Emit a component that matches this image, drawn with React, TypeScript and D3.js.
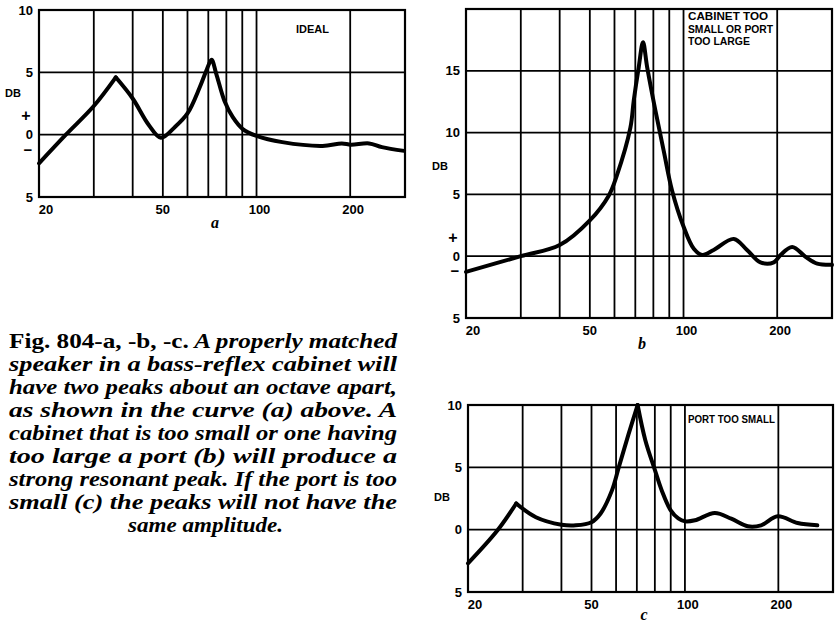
import React from 'react';
import * as d3 from 'd3';

// ---------- shared axis data ----------
const gridFreqs = [30, 40, 50, 60, 70, 80, 90, 100, 200];
const xTickValues = [20, 50, 100, 200];
const xTickLabels = ['20', '50', '100', '200'];

// ---------- panel a : IDEAL ----------
const aFreq = [20, 24.4, 30, 35.3, 40, 45, 49.3, 54.6, 60, 65.7, 68.9, 71.7, 74.2, 78.9, 83.9, 90.3, 100, 121, 163, 188, 201, 230, 253, 298];
const aDb = [-2.3, 0, 2.3, 4.6, 2.9, 0.8, -0.25, 0.6, 1.7, 3.8, 5.1, 6.0, 4.9, 2.7, 1.4, 0.45, -0.1, -0.6, -0.9, -0.7, -0.8, -0.7, -1.0, -1.3];
const aSharp = [3];
const aGridDb = [5, 0];
const aTickDb = [10, 5, 0, -5];
const aTickLabels = ['10', '5', '0', '5'];
const aNote = ['IDEAL'];

// ---------- panel b : CABINET TOO SMALL ----------
const bFreq = [20, 30, 40, 50, 57.5, 61, 67.5, 69.2, 71.8, 74.1, 76.4, 81.2, 86.4, 91.9, 100, 107.9, 114.8, 125, 145, 160, 176.7, 195, 205, 223.5, 246.7, 269, 300];
const bDb = [-1.27, 0, 0.9, 2.9, 4.9, 6.5, 10.4, 12.6, 15.3, 17.3, 15.3, 11.8, 8.5, 5.3, 2.4, 0.6, 0.1, 0.5, 1.4, 0.5, -0.5, -0.5, 0.1, 0.75, -0.05, -0.6, -0.7];
const bSharp: number[] = [];
const bGridDb = [15, 10, 5, 0];
const bTickDb = [15, 10, 5, 0, -5];
const bTickLabels = ['15', '10', '5', '0', '5'];
const bNote = ['CABINET TOO', 'SMALL OR PORT', 'TOO LARGE'];

// ---------- panel c : PORT TOO SMALL ----------
const cFreq = [20, 24.9, 28.6, 33.1, 40, 44.5, 50, 53.5, 58.2, 61.2, 65.9, 70.4, 74.5, 80, 84.2, 90, 95.2, 100, 107.7, 124.8, 141, 159.5, 175.9, 199, 230.7, 267];
const cDb = [-2.7, -0.05, 2.1, 1.0, 0.4, 0.35, 0.6, 1.3, 3.15, 5.0, 7.7, 10.0, 7.2, 4.8, 3.15, 1.55, 0.9, 0.67, 0.75, 1.33, 0.88, 0.27, 0.35, 1.07, 0.53, 0.35];
const cSharp = [2, 11];
const cGridDb = [5, 0];
const cTickDb = [10, 5, 0, -5];
const cTickLabels = ['10', '5', '0', '5'];
const cNote = ['PORT TOO SMALL'];

// ---------- caption ----------
const captionHead = 'Fig. 804-a, -b, -c.';
const captionFirstRest = ' A properly matched';
const captionLines = [
  'speaker in a bass-reflex cabinet will',
  'have two peaks about an octave apart,',
  'as shown in the curve (a) above. A',
  'cabinet that is too small or one having',
  'too large a port (b) will produce a',
  'strong resonant peak. If the port is too',
  'small (c) the peaks will not have the',
];
const captionLast = 'same amplitude.';

const SANS = "'Liberation Sans Narrow','Liberation Sans',Arial,sans-serif";
const SERIF = "'Liberation Serif','DejaVu Serif',serif";

type PanelProps = {
  left: number; top: number; width: number; height: number;
  yMin: number; yMax: number;
  freqs: number[]; dbs: number[]; sharp: number[];
  gridDb: number[]; tickDb: number[]; tickLabels: string[];
  signs: boolean; dbLabelAt: number;
  note: string[]; noteWidths: number[]; noteX: number; noteY: number; noteStep: number; noteSize: number;
  letter: string; letterDy: number;
};

function Panel(p: PanelProps) {
  const x = d3.scaleLog().domain([20, 300]).range([p.left, p.left + p.width]);
  const y = d3.scaleLinear().domain([p.yMin, p.yMax]).range([p.top + p.height, p.top]);
  const pts: [number, number][] = p.freqs.map((f, i) => [x(f), y(p.dbs[i])]);
  const cuts = [0, ...p.sharp, pts.length - 1];
  const line = d3.line().curve(d3.curveCatmullRom.alpha(0.5));
  const segs: string[] = [];
  for (let i = 0; i < cuts.length - 1; i++) {
    segs.push(line(pts.slice(cuts[i], cuts[i + 1] + 1)) || '');
  }
  const bottom = p.top + p.height;
  return (
    <g>
      {gridFreqs.map((f) => (
        <line key={'v' + f} x1={x(f)} x2={x(f)} y1={p.top} y2={bottom} stroke="#000" strokeWidth={1.8} />
      ))}
      {p.gridDb.map((d) => (
        <line key={'h' + d} x1={p.left} x2={p.left + p.width} y1={y(d)} y2={y(d)} stroke="#000" strokeWidth={1.8} />
      ))}
      <rect x={p.left} y={p.top} width={p.width} height={p.height} fill="none" stroke="#000" strokeWidth={2.2} />
      {segs.map((d, i) => (
        <path key={'s' + i} d={d} fill="none" stroke="#000" strokeWidth={4} strokeLinejoin="round" strokeLinecap="round" />
      ))}
      {p.tickDb.map((d, i) => (
        <text key={'yt' + i} x={p.left - 6} y={y(d)} dy="0.36em" textAnchor="end"
          fontFamily={SANS} fontWeight="bold" fontSize={13}>{p.tickLabels[i]}</text>
      ))}
      {p.signs && (
        <g>
          <text x={p.left - 13} y={y(1.5)} dy="0.33em" textAnchor="middle" fontFamily={SANS} fontWeight="bold" fontSize={16}>+</text>
          <text x={p.left - 11} y={y(-1.2)} dy="0.33em" textAnchor="middle" fontFamily={SANS} fontWeight="bold" fontSize={15}>−</text>
        </g>
      )}
      <text x={p.left - 26} y={y(p.dbLabelAt)} dy="0.36em" textAnchor="middle"
        fontFamily={SANS} fontWeight="bold" fontSize={11}>DB</text>
      {xTickValues.map((f, i) => (
        <text key={'xt' + f} x={x(f) + (i === 0 ? 7 : i === 1 ? 0 : 3)} y={bottom + 17} textAnchor="middle"
          fontFamily={SANS} fontWeight="bold" fontSize={13}>{xTickLabels[i]}</text>
      ))}
      {p.note.map((t, i) => (
        <text key={'n' + i} x={p.noteX} y={p.noteY + i * p.noteStep} textLength={p.noteWidths[i]}
          lengthAdjust="spacingAndGlyphs" fontFamily={SANS} fontWeight="bold" fontSize={p.noteSize}>{t}</text>
      ))}
      <text x={p.left + 176} y={bottom + p.letterDy} textAnchor="middle" fontFamily={SERIF}
        fontStyle="italic" fontWeight="bold" fontSize={16}>{p.letter}</text>
    </g>
  );
}

export default function App() {
  const capX = 9;
  const capW = 388;
  const capY0 = 348;
  const capStep = 23;
  return (
    <svg width={836} height={626} style={{ position: 'absolute', left: 0, top: 0, background: '#fff' }}>
      <rect x={0} y={0} width={836} height={626} fill="#fff" />
      <Panel left={39} top={10} width={366} height={187} yMin={-5} yMax={10}
        freqs={aFreq} dbs={aDb} sharp={aSharp} gridDb={aGridDb} tickDb={aTickDb} tickLabels={aTickLabels}
        signs={true} dbLabelAt={3.3} note={aNote} noteWidths={[33]} noteX={296} noteY={33} noteStep={12} noteSize={10}
        letter="a" letterDy={31} />
      <Panel left={466} top={9} width={366} height={309} yMin={-5} yMax={20}
        freqs={bFreq} dbs={bDb} sharp={bSharp} gridDb={bGridDb} tickDb={bTickDb} tickLabels={bTickLabels}
        signs={true} dbLabelAt={7.3} note={bNote} noteWidths={[80, 85, 62]} noteX={688} noteY={20} noteStep={12.5} noteSize={11}
        letter="b" letterDy={31} />
      <Panel left={468} top={405} width={365} height={187} yMin={-5} yMax={10}
        freqs={cFreq} dbs={cDb} sharp={cSharp} gridDb={cGridDb} tickDb={cTickDb} tickLabels={cTickLabels}
        signs={false} dbLabelAt={2.6} note={cNote} noteWidths={[87]} noteX={688} noteY={423} noteStep={12} noteSize={11}
        letter="c" letterDy={28} />
      <g fontFamily={SERIF} fontSize={21} fontWeight="bold">
        <text x={capX} y={capY0} textLength={capW} lengthAdjust="spacingAndGlyphs">
          <tspan>{captionHead}</tspan>
          <tspan fontStyle="italic">{captionFirstRest}</tspan>
        </text>
        {captionLines.map((t, i) => (
          <text key={'c' + i} x={capX} y={capY0 + (i + 1) * capStep} textLength={capW} lengthAdjust="spacingAndGlyphs" fontStyle="italic">{t}</text>
        ))}
        <text x={128} y={capY0 + 8 * capStep} textLength={155} lengthAdjust="spacingAndGlyphs" fontStyle="italic">{captionLast}</text>
      </g>
    </svg>
  );
}
